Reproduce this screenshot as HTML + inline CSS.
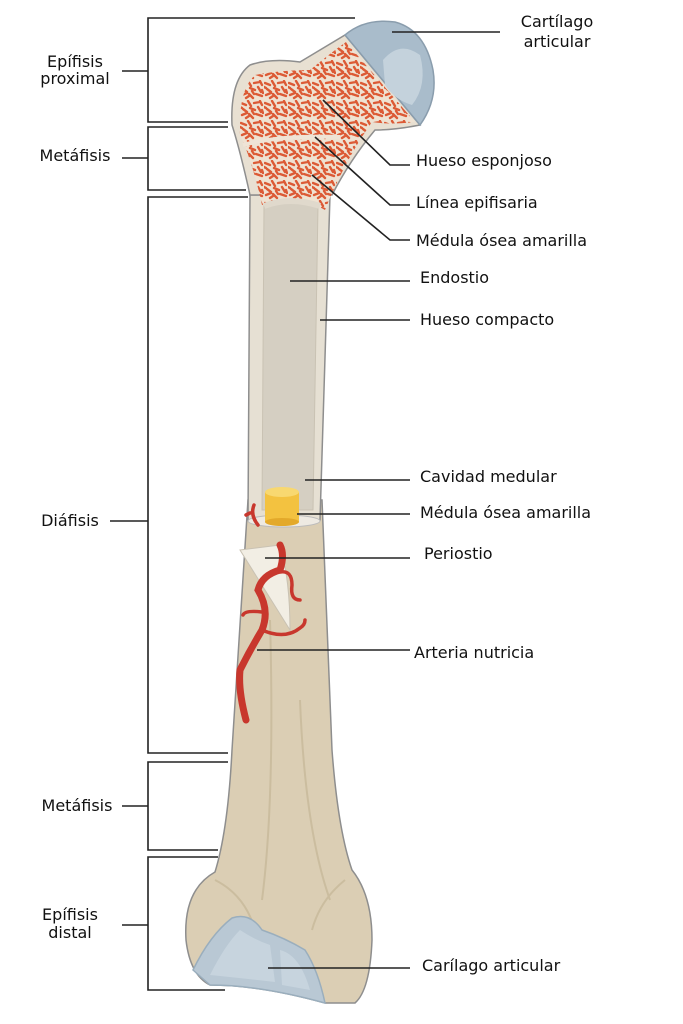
<!DOCTYPE html>
<html><head><meta charset="utf-8"><style>
html,body{margin:0;padding:0;background:#fff}
svg{display:block}
text{font-family:"DejaVu Sans","Liberation Sans",sans-serif;font-size:16px;fill:#111}
</style></head><body>
<svg width="683" height="1024" viewBox="0 0 683 1024" xmlns="http://www.w3.org/2000/svg">
<defs>
<pattern id="sp" width="24" height="20" patternUnits="userSpaceOnUse">
<rect width="24" height="20" fill="#efe2d2"/>
<path d="M1 3l5 2M8 1l3 5M14 3l6-1M3 9l4 3M10 8l5 2M18 7l3 5M2 15l5-2M9 14l4 4M16 14l6 2M20 1l2 4M6 18l3-2M12 11l2 3M22 10l1 3M0 7l2 1" stroke="#dc5a35" stroke-width="2.4" stroke-linecap="round"/>
</pattern>
</defs>
<!-- brackets -->
<g stroke="#222" stroke-width="1.6" fill="none">
<path d="M355 18H148V122H228"/>
<path d="M228 127H148V190H246"/>
<path d="M248 197H148V753H228"/>
<path d="M228 762H148V850H218"/>
<path d="M218 857H148V990H225"/>
<path d="M122 71H148M122 158H148M110 521H148M122 806H148M122 925H148"/>
</g>
<!-- distal + shaft lower -->
<path d="M248 500 L322 500 L332 750 Q338 830 352 870 Q372 895 372 940 Q370 990 355 1003 L325 1003 Q260 985 210 985 Q190 975 186 940 Q183 890 215 872 Q228 830 232 750 Z" fill="#dbceb4" stroke="#8e8e8e" stroke-width="1.5"/>
<path d="M270 620 Q275 800 262 900 M300 700 Q305 830 330 900 M215 880 Q245 895 255 930 M345 880 Q320 900 312 930" stroke="#cbbd9f" stroke-width="2" fill="none"/>
<!-- distal cartilage -->
<path d="M193 970 Q210 935 232 918 Q250 912 262 930 Q285 938 305 950 Q318 970 325 1003 Q260 985 210 985 Z" fill="#b9c8d4" stroke="#9aaebd" stroke-width="1.5"/>
<path d="M210 975 Q225 945 240 930 Q255 940 270 945 L275 982 Q240 978 210 975 Z" fill="#c7d4de"/>
<path d="M280 950 Q300 955 310 990 L282 985 Z" fill="#c7d4de"/>
<!-- upper shaft wall -->
<path d="M250 195 L330 195 L320 520 L248 520 Z" fill="#e6e0d3" stroke="#8e8e8e" stroke-width="1.5"/>
<path d="M264 205 Q290 195 318 205 L313 510 L262 510 Z" fill="#d5cfc2" stroke="#c9c2b3"/>
<!-- proximal epiphysis -->
<path d="M250 195 Q240 150 232 125 Q230 80 250 65 Q270 58 300 62 Q320 50 345 35 L420 125 Q395 130 375 130 Q350 160 332 195 Z" fill="#e8e0d2" stroke="#8e8e8e" stroke-width="1.5"/>
<path d="M262 205 Q252 160 240 135 Q238 90 255 75 Q280 70 310 70 Q328 55 346 42 L415 122 Q390 125 372 122 Q345 160 325 210 Q300 195 262 205 Z" fill="url(#sp)"/>
<path d="M243 145 Q280 135 340 137" stroke="#efe4d6" stroke-width="4" fill="none"/>
<path d="M264 206 Q290 196 320 206" stroke="#e0d9cc" stroke-width="6" fill="none"/>
<!-- head cartilage -->
<path d="M345 35 Q365 18 395 22 Q425 30 433 70 Q438 100 420 125 Z" fill="#a9bccb" stroke="#8a9dad" stroke-width="1.5"/>
<path d="M383 60 Q400 40 420 55 Q428 85 412 105 Q395 100 385 85 Z" fill="#c4d2dc"/>
<!-- marrow plug -->
<ellipse cx="284" cy="521" rx="36" ry="6" fill="#eeeae2" stroke="#bbb"/>
<rect x="265" y="492" width="34" height="30" fill="#f3c240"/>
<ellipse cx="282" cy="522" rx="17" ry="4" fill="#e3a92a"/>
<ellipse cx="282" cy="492" rx="17" ry="5" fill="#f8d870"/>
<!-- periosteum flap -->
<path d="M240 550 L280 545 Q290 580 290 630 Z" fill="#f2eee4" stroke="#c9c2b3"/>
<!-- artery -->
<g stroke="#c8372d" stroke-width="7" fill="none" stroke-linecap="round">
<path d="M246 720 Q238 690 240 670 Q250 650 262 630 Q270 610 258 590 Q262 575 280 570 Q285 555 280 545"/>
</g>
<g stroke="#c8372d" stroke-width="3.5" fill="none" stroke-linecap="round">
<path d="M262 630 Q285 640 300 628 Q305 625 305 620"/>
<path d="M262 612 Q245 610 243 615"/>
<path d="M280 572 Q292 570 292 585 Q290 600 300 600"/>
<path d="M258 525 Q250 515 254 505 M250 513 L246 515"/>
</g>
<!-- leader lines -->
<g stroke="#222" stroke-width="1.6" fill="none">
<path d="M392 32H500"/>
<path d="M323 100L390 165H410"/>
<path d="M315 137L390 205H410"/>
<path d="M312 175L390 240H410"/>
<path d="M290 281H410"/>
<path d="M320 320H410"/>
<path d="M305 480H410"/>
<path d="M297 514H410"/>
<path d="M265 558H410"/>
<path d="M257 650H410"/>
<path d="M268 968H410"/>
</g>
<!-- left labels -->
<text x="75" y="67" text-anchor="middle">Epífisis</text>
<text x="75" y="84" text-anchor="middle">proximal</text>
<text x="75" y="161" text-anchor="middle">Metáfisis</text>
<text x="70" y="526" text-anchor="middle">Diáfisis</text>
<text x="77" y="811" text-anchor="middle">Metáfisis</text>
<text x="70" y="920" text-anchor="middle">Epífisis</text>
<text x="70" y="938" text-anchor="middle">distal</text>
<!-- right labels -->
<text x="557" y="27" text-anchor="middle">Cartílago</text>
<text x="557" y="47" text-anchor="middle">articular</text>
<text x="416" y="166">Hueso esponjoso</text>
<text x="416" y="208">Línea epifisaria</text>
<text x="416" y="246">Médula ósea amarilla</text>
<text x="420" y="283">Endostio</text>
<text x="420" y="325">Hueso compacto</text>
<text x="420" y="482">Cavidad medular</text>
<text x="420" y="518">Médula ósea amarilla</text>
<text x="424" y="559">Periostio</text>
<text x="414" y="658">Arteria nutricia</text>
<text x="422" y="971">Carílago articular</text>
</svg>
</body></html>
